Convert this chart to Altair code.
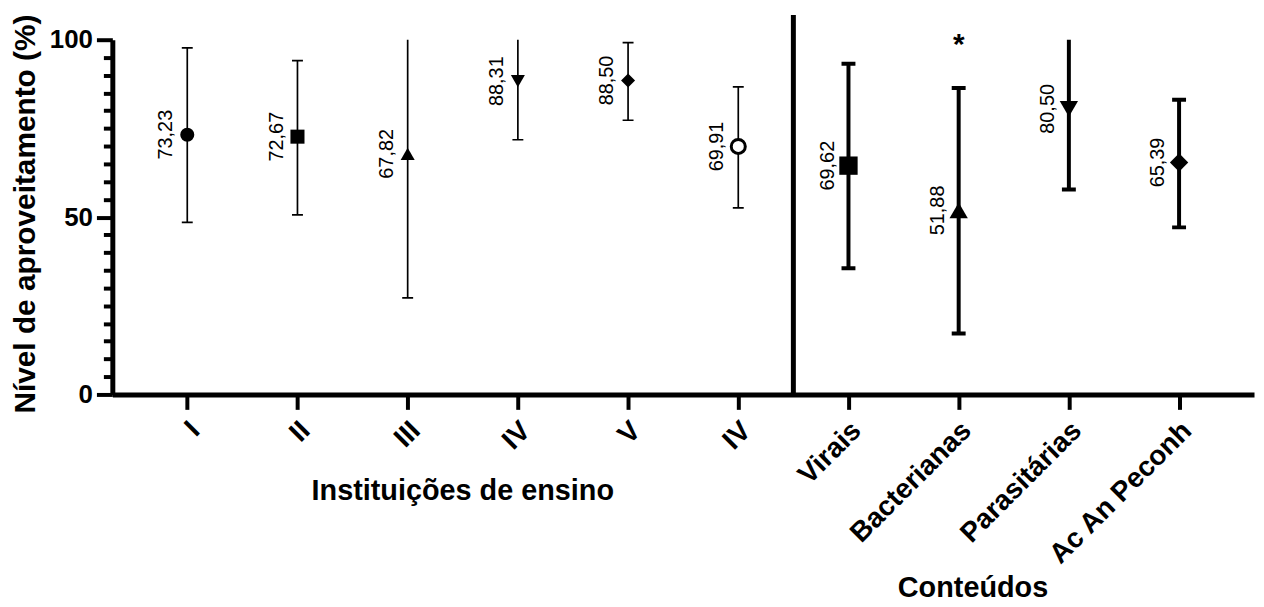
import altair as alt
import pandas as pd

# ---------------- data ----------------
categories = ["I", "II", "III", "IV", "V", "IV",
              "Virais", "Bacterianas", "Parasitárias", "Ac An Peconh"]
positions = [1, 2, 3, 4, 5, 6, 7, 8, 9, 10]
panels = ["inst"] * 6 + ["cont"] * 4
means = [73.23, 72.67, 67.82, 88.31, 88.50, 69.91, 64.5, 51.88, 80.50, 65.39]
lows = [48.5, 50.6, 27.2, 71.8, 77.3, 52.6, 35.6, 17.2, 57.8, 47.1]
highs = [97.7, 94.1, 108.4, 104.8, 99.2, 86.7, 93.2, 86.4, 103.2, 83.1]
value_labels = ["73,23", "72,67", "67,82", "88,31", "88,50", "69,91",
                "69,62", "51,88", "80,50", "65,39"]
y_ticks = list(range(0, 101, 5))

separator_x = 6.5
separator_top = 107
asterisk_pos = 8
asterisk_y = 96
title_inst_x = 3.5
title_cont_x = 8.13

FONT = "Liberation Sans"

df = pd.DataFrame({
    "pos": positions, "cat": categories, "panel": panels,
    "mean": means, "low": lows, "high": highs, "lab": value_labels,
})

label_expr = "[" + ",".join(["''"] + [f"'{c}'" for c in categories]) + "][datum.value]"

xscale = alt.Scale(domain=[0.32, 10.68], nice=False, zero=False)
yscale = alt.Scale(domain=[0, 100], nice=False, zero=True)

x_axis = alt.Axis(
    values=positions, labelExpr=label_expr, title=None, grid=False,
    domainWidth=5, domainColor="black", tickColor="black", tickWidth=4, tickSize=15,
    labelAngle=-45, labelAlign="right", labelBaseline="middle", labelPadding=17,
    labelOffset=8, labelLimit=0,
    labelFont=FONT, labelFontWeight="bold", labelFontSize=28, labelColor="black",
    labelFlush=False, labelOverlap=False, labelBound=False,
)
y_axis = alt.Axis(
    values=y_ticks, labelExpr="datum.value % 50 == 0 ? datum.label : ''",
    grid=False, domainWidth=5, domainColor="black", tickColor="black", tickWidth=4,
    tickSize={"condition": {"test": "datum.value % 50 == 0", "value": 16}, "value": 9},
    labelFont=FONT, labelFontWeight="bold", labelFontSize=26, labelColor="black",
    labelPadding=4, labelFlush=False, labelOverlap=False,
    title="Nível de aproveitamento (%)", titleFont=FONT, titleFontWeight="bold",
    titleFontSize=30, titleColor="black", titleX=-87, titleY=175, titleAngle=270,
    titleAlign="center", titleBaseline="middle",
)


def X(field):
    return alt.X(field, scale=xscale, axis=x_axis)


def Y(field):
    return alt.Y(field, scale=yscale, axis=y_axis)


base = alt.Chart(df)


def errorbars(panel, width, cap):
    sub = base.transform_filter(alt.datum.panel == panel)
    rule = sub.mark_rule(color="black", strokeWidth=width, clip=True).encode(
        x=X("pos:Q"), y=Y("low:Q"), y2="high:Q")
    caps = sub.transform_fold(["low", "high"], as_=["end", "val"]).mark_tick(
        color="black", orient="horizontal", size=cap, thickness=width, clip=True, opacity=1
    ).encode(x=X("pos:Q"), y=Y("val:Q"))
    return rule + caps


shape_scale = alt.Scale(
    domain=positions,
    range=["circle", "square", "triangle-up", "triangle-down", "diamond", "circle",
           "square", "triangle-up", "triangle-down", "diamond"],
)

left_markers = base.transform_filter(alt.datum.pos <= 5).mark_point(
    filled=True, color="black", size=200, opacity=1
).encode(x=X("pos:Q"), y=Y("mean:Q"),
         shape=alt.Shape("pos:N", scale=shape_scale, legend=None))

open_marker = base.transform_filter(alt.datum.pos == 6).mark_point(
    shape="circle", filled=False, fill="white", fillOpacity=1, stroke="black",
    strokeWidth=3, size=200, opacity=1
).encode(x=X("pos:Q"), y=Y("mean:Q"))

right_markers = base.transform_filter(alt.datum.panel == "cont").mark_point(
    filled=True, color="black", size=340, opacity=1
).encode(x=X("pos:Q"), y=Y("mean:Q"),
         shape=alt.Shape("pos:N", scale=shape_scale, legend=None))

labels = base.mark_text(
    angle=270, align="center", baseline="middle", dy=-21,
    font=FONT, fontSize=20, color="black"
).encode(x=X("pos:Q"), y=Y("mean:Q"), text="lab:N")

sep_df = pd.DataFrame({"pos": [separator_x], "y0": [0], "y1": [separator_top]})
separator = alt.Chart(sep_df).mark_rule(color="black", strokeWidth=5, clip=False).encode(
    x=X("pos:Q"), y=Y("y0:Q"), y2="y1:Q")

ast_df = pd.DataFrame({"pos": [asterisk_pos], "y": [asterisk_y], "t": ["*"]})
asterisk = alt.Chart(ast_df).mark_text(
    font=FONT, fontSize=30, fontWeight="bold", color="black", baseline="alphabetic"
).encode(x=X("pos:Q"), y=Y("y:Q"), text="t:N")

titles_df = pd.DataFrame({
    "pos": [title_inst_x, title_cont_x],
    "t": ["Instituições de ensino", "Conteúdos"],
    "row": ["a", "b"],
})
title_inst = alt.Chart(titles_df).transform_filter(alt.datum.row == "a").mark_text(
    font=FONT, fontSize=29, fontWeight="bold", color="black", baseline="alphabetic"
).encode(x=X("pos:Q"), y=alt.value(463), text="t:N")
title_cont = alt.Chart(titles_df).transform_filter(alt.datum.row == "b").mark_text(
    font=FONT, fontSize=29, fontWeight="bold", color="black", baseline="alphabetic"
).encode(x=X("pos:Q"), y=alt.value(561), text="t:N")

chart = alt.layer(
    errorbars("inst", 1.7, 11),
    errorbars("cont", 4, 14),
    left_markers, open_marker, right_markers,
    labels, separator, asterisk, title_inst, title_cont,
).properties(
    width=1149, height=357,
    padding={"left": 105, "top": 30, "right": 2, "bottom": 211},
    autosize=alt.AutoSizeParams(type="none"),
    background="white",
).configure_view(stroke=None)

chart.save("out.html", embed_options={"renderer": "svg", "actions": False})
